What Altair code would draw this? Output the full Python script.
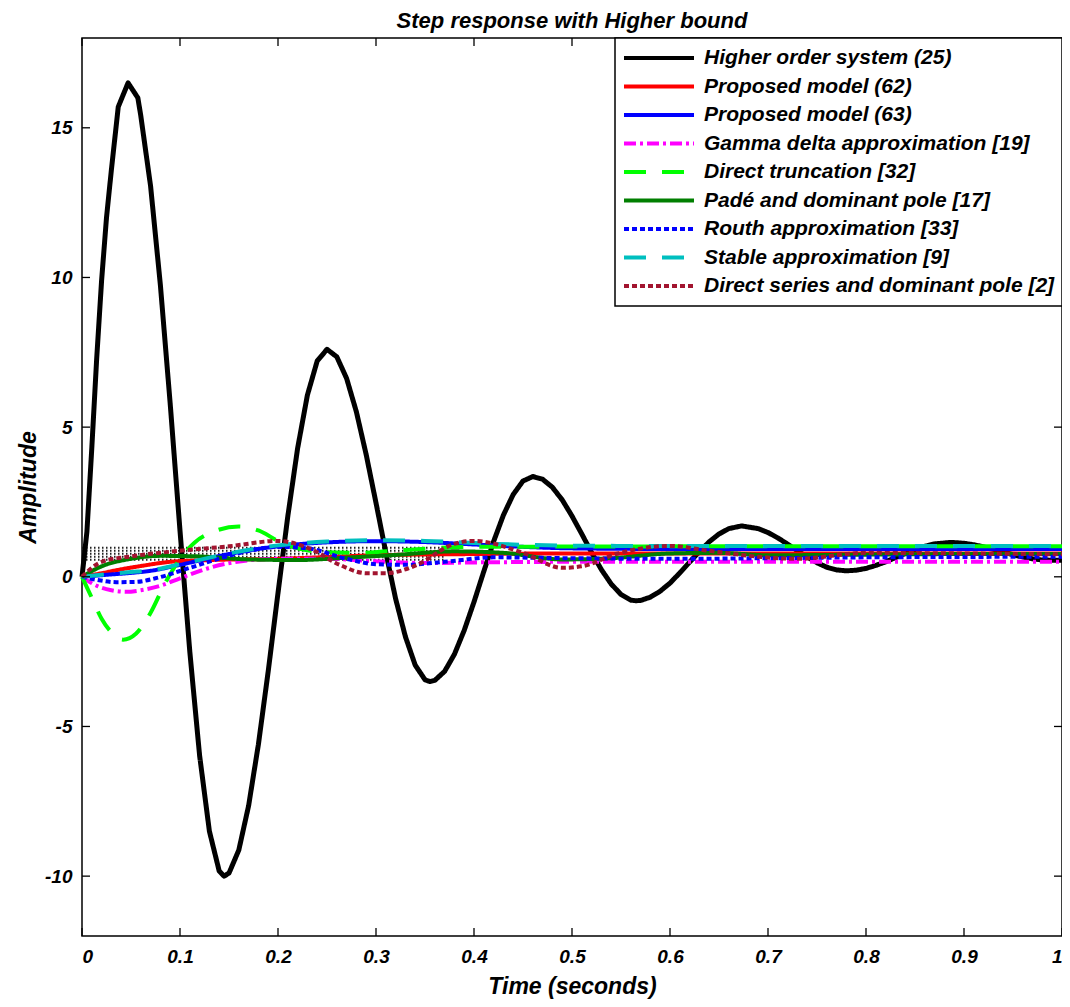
import altair as alt
import pandas as pd

FONT = "Liberation Sans"

names = [
    "Higher order system (25)",
    "Proposed model (62)",
    "Proposed model (63)",
    "Gamma delta approximation [19]",
    "Direct truncation [32]",
    "Padé and dominant pole [17]",
    "Routh approximation [33]",
    "Stable approximation [9]",
    "Direct series and dominant pole [2]",
]
colors = ["#000000", "#ff0000", "#0000ff", "#ff00ff", "#00ff00",
          "#007f00", "#0000ff", "#00bfbf", "#a2142f"]
dashes = [[1, 0], [1, 0], [1, 0], [12, 4, 3, 4], [22, 16],
          [1, 0], [5, 3], [22, 16], [5, 3]]
widths = [5, 4, 4, 4, 4, 4, 4, 4, 4]

# Higher order system (25)
black_t = [0, 0.005, 0.01, 0.015, 0.02, 0.025, 0.03, 0.037, 0.047, 0.057, 0.06,
           0.07, 0.08, 0.09, 0.10, 0.11, 0.12, 0.13, 0.14, 0.145,
           0.15, 0.16, 0.17, 0.18, 0.19, 0.20, 0.21, 0.22, 0.23, 0.24, 0.25,
           0.26, 0.27, 0.28, 0.29, 0.30, 0.31, 0.32, 0.33, 0.34, 0.35, 0.355,
           0.36, 0.37, 0.38, 0.39, 0.40, 0.41, 0.42, 0.43, 0.44, 0.45, 0.46,
           0.47, 0.48, 0.49, 0.50, 0.51, 0.52, 0.53, 0.54, 0.55, 0.56, 0.565,
           0.57, 0.58, 0.59, 0.60, 0.61, 0.62, 0.63, 0.64, 0.65, 0.66, 0.673,
           0.69, 0.70, 0.71, 0.72, 0.73, 0.74, 0.75, 0.76, 0.77, 0.78,
           0.79, 0.80, 0.81, 0.82, 0.83, 0.84, 0.85, 0.86, 0.87, 0.887,
           0.90, 0.91, 0.92, 0.93, 0.94, 0.95, 0.96, 0.97, 0.98, 1.0]
black_y = [0, 1.5, 4.3, 7.3, 9.9, 12.0, 13.6, 15.7, 16.5, 16.0, 15.4,
           13.05, 9.74, 5.78, 1.54, -2.5, -5.97, -8.5, -9.83, -10.0,
           -9.9, -9.13, -7.65, -5.6, -3.16, -0.54, 2.02, 4.29, 6.07, 7.21, 7.6,
           7.35, 6.63, 5.51, 4.08, 2.47, 0.82, -0.73, -2.0, -2.95, -3.44, -3.5,
           -3.46, -3.16, -2.59, -1.79, -0.84, 0.18, 1.18, 2.06, 2.75, 3.2, 3.35,
           3.26, 2.99, 2.57, 2.03, 1.43, 0.81, 0.24, -0.24, -0.59, -0.78, -0.8,
           -0.79, -0.68, -0.48, -0.21, 0.13, 0.49, 0.84, 1.17, 1.43, 1.61, 1.7,
           1.61, 1.48, 1.30, 1.09, 0.87, 0.66, 0.47, 0.32, 0.23, 0.2,
           0.22, 0.28, 0.38, 0.50, 0.64, 0.78, 0.91, 1.02, 1.10, 1.15,
           1.12, 1.07, 1.0, 0.92, 0.83, 0.74, 0.66, 0.60, 0.56, 0.55]

red_t = [0, 0.02, 0.04, 0.06, 0.09, 0.13, 0.2, 0.25, 0.3, 0.4, 0.5, 0.7, 1.0]
red_y = [0, 0.12, 0.25, 0.36, 0.5, 0.56, 0.6, 0.66, 0.72, 0.76, 0.78, 0.78, 0.78]

blue63_t = [0, 0.03, 0.05, 0.07, 0.1, 0.15, 0.2, 0.25, 0.3, 0.35, 0.4, 0.45, 0.5, 0.6, 0.8, 1.0]
blue63_y = [0, 0.08, 0.13, 0.2, 0.4, 0.76, 1.02, 1.15, 1.19, 1.16, 1.08, 1.0, 0.95, 0.93, 0.93, 0.93]

gamma_t = [0, 0.015, 0.03, 0.045, 0.06, 0.08, 0.1, 0.13, 0.17, 0.2, 0.25, 0.3, 0.35, 0.4, 0.5, 0.7, 1.0]
gamma_y = [0, -0.3, -0.45, -0.5, -0.45, -0.3, -0.05, 0.3, 0.55, 0.6, 0.6, 0.52, 0.46, 0.48, 0.5, 0.5, 0.5]

lime_t = [0, 0.01, 0.02, 0.03, 0.042, 0.055, 0.07, 0.085, 0.1, 0.115, 0.135, 0.16,
          0.18, 0.2, 0.22, 0.25, 0.28, 0.31, 0.35, 0.4, 0.5, 0.7, 1.0]
lime_y = [0, -0.7, -1.4, -1.85, -2.1, -1.9, -1.2, -0.2, 0.6, 1.15, 1.52, 1.68,
          1.55, 1.2, 0.95, 0.82, 0.8, 0.85, 0.94, 1.0, 1.01, 1.02, 1.02]

pade_t = [0, 0.02, 0.05, 0.08, 0.12, 0.17, 0.22, 0.27, 0.32, 0.38, 0.43, 0.49,
          0.54, 0.6, 0.65, 0.7, 0.8, 0.9, 1.0]
pade_y = [0, 0.35, 0.6, 0.7, 0.68, 0.58, 0.56, 0.64, 0.73, 0.85, 0.8, 0.58,
          0.62, 0.78, 0.8, 0.72, 0.74, 0.76, 0.76]

routh_t = [0, 0.015, 0.035, 0.055, 0.075, 0.11, 0.15, 0.2, 0.23, 0.27, 0.3, 0.33,
           0.37, 0.42, 0.5, 0.6, 0.7, 0.8, 1.0]
routh_y = [0, -0.1, -0.18, -0.17, -0.05, 0.3, 0.7, 1.0, 0.95, 0.6, 0.42, 0.4,
           0.5, 0.65, 0.62, 0.6, 0.62, 0.65, 0.67]

stable_t = [0, 0.03, 0.05, 0.07, 0.1, 0.15, 0.2, 0.25, 0.3, 0.35, 0.4, 0.45, 0.5, 0.6, 0.8, 1.0]
stable_y = [0, 0.1, 0.16, 0.22, 0.42, 0.78, 1.05, 1.18, 1.22, 1.2, 1.13, 1.07, 1.04, 1.03, 1.03, 1.03]

series2_t = [0, 0.02, 0.05, 0.1, 0.15, 0.2, 0.233, 0.263, 0.29, 0.31, 0.34, 0.38, 0.4,
             0.45, 0.49, 0.51, 0.546, 0.6, 0.64, 0.69, 0.73, 0.8, 0.9, 1.0]
series2_y = [0, 0.5, 0.68, 0.87, 1.02, 1.2, 0.93, 0.4, 0.12, 0.12, 0.37, 1.1, 1.2,
             0.8, 0.3, 0.35, 0.77, 1.03, 0.87, 0.67, 0.6, 0.8, 0.78, 0.75]

# dotted "bound" band
hatch_levels = [0.97, 0.87, 0.77, 0.67, 0.57]
hatch_end = 0.37

x_ticks = [0, 0.1, 0.2, 0.3, 0.4, 0.5, 0.6, 0.7, 0.8, 0.9, 1.0]
y_ticks = [-10, -5, 0, 5, 10, 15]

W, H = 980, 898
TL = 8

series_t = [black_t, red_t, blue63_t, gamma_t, lime_t, pade_t, routh_t, stable_t, series2_t]
series_y = [black_y, red_y, blue63_y, gamma_y, lime_y, pade_y, routh_y, stable_y, series2_y]

xs = alt.Scale(domain=[0, 1], nice=False, zero=False)
ys = alt.Scale(domain=[-12, 18], nice=False, zero=False)

xaxis = alt.Axis(values=x_ticks, format="~g", ticks=False, domain=False, grid=False,
                 labelFont=FONT, labelFontSize=19, labelFontStyle="italic",
                 labelFontWeight="bold", labelColor="black", labelPadding=11,
                 titleFont=FONT, titleFontSize=23, titleFontStyle="italic",
                 titleFontWeight="bold", titleColor="black",
                 titleBaseline="bottom", titleY=62)
yaxis = alt.Axis(values=y_ticks, labelExpr="'' + datum.value", ticks=False, domain=False,
                 grid=False, labelFont=FONT, labelFontSize=19, labelFontStyle="italic",
                 labelFontWeight="bold", labelColor="black", labelPadding=10,
                 titleFont=FONT, titleFontSize=23, titleFontStyle="italic",
                 titleFontWeight="bold", titleColor="black",
                 titleBaseline="middle", titleX=-54)

X = alt.X("t:Q", scale=xs, axis=xaxis, title="Time (seconds)")
Y = alt.Y("y:Q", scale=ys, axis=yaxis, title="Amplitude")

legend = alt.Legend(title=None, orient="top-right", offset=0, symbolType="stroke",
                    symbolSize=70 * 70, symbolStrokeWidth=4, clipHeight=26,
                    rowPadding=2.5, labelFont=FONT, labelFontSize=21,
                    labelFontStyle="italic", labelFontWeight="bold",
                    labelColor="black", labelOffset=8, labelLimit=600,
                    padding=7, strokeColor="black", fillColor="white")

color = alt.Color("series:N", scale=alt.Scale(domain=names, range=colors),
                  legend=legend, sort=names)
dash = alt.StrokeDash("series:N", scale=alt.Scale(domain=names, range=dashes),
                      legend=legend, sort=names)

layers = []

# hatch band
hatch_df = pd.DataFrame({"y": hatch_levels, "t": [0] * len(hatch_levels),
                         "t2": [hatch_end] * len(hatch_levels)})
layers.append(alt.Chart(hatch_df).mark_rule(color="#222222", strokeWidth=1.8,
                                            strokeDash=[1.5, 2.5]).encode(
    x=X, x2="t2:Q", y=Y))

for i, nm in enumerate(names):
    df = pd.DataFrame({"t": series_t[i], "y": series_y[i], "series": nm})
    interp = "linear" if i == 0 else "monotone"
    layers.append(alt.Chart(df).mark_line(strokeWidth=widths[i], interpolate=interp,
                                          strokeCap="butt", strokeJoin="round").encode(
        x=X, y=Y, color=color, strokeDash=dash))

# inward ticks (MATLAB style)
xt = pd.DataFrame({"t": x_ticks})
yt = pd.DataFrame({"y": y_ticks})
tk = dict(color="black", strokeWidth=1.3)
layers.append(alt.Chart(xt).mark_rule(**tk).encode(x=X, y=alt.value(H), y2=alt.value(H - TL)))
layers.append(alt.Chart(xt).mark_rule(**tk).encode(x=X, y=alt.value(0), y2=alt.value(TL)))
layers.append(alt.Chart(yt).mark_rule(**tk).encode(y=Y, x=alt.value(0), x2=alt.value(TL)))
layers.append(alt.Chart(yt).mark_rule(**tk).encode(y=Y, x=alt.value(W), x2=alt.value(W - TL)))

chart = alt.layer(*layers).properties(
    width=W, height=H,
    title=alt.Title("Step response with Higher bound", font=FONT, fontSize=22,
                    fontStyle="italic", fontWeight="bold", color="black",
                    anchor="middle", offset=4),
    autosize=alt.AutoSizeParams(type="none"),
    padding={"left": 74, "top": 30, "right": 0, "bottom": 63},
).configure_view(stroke="black", strokeWidth=1.5).configure_legend(strokeWidth=1.5)

chart.save("out.html", embed_options={"renderer": "svg", "actions": False})
